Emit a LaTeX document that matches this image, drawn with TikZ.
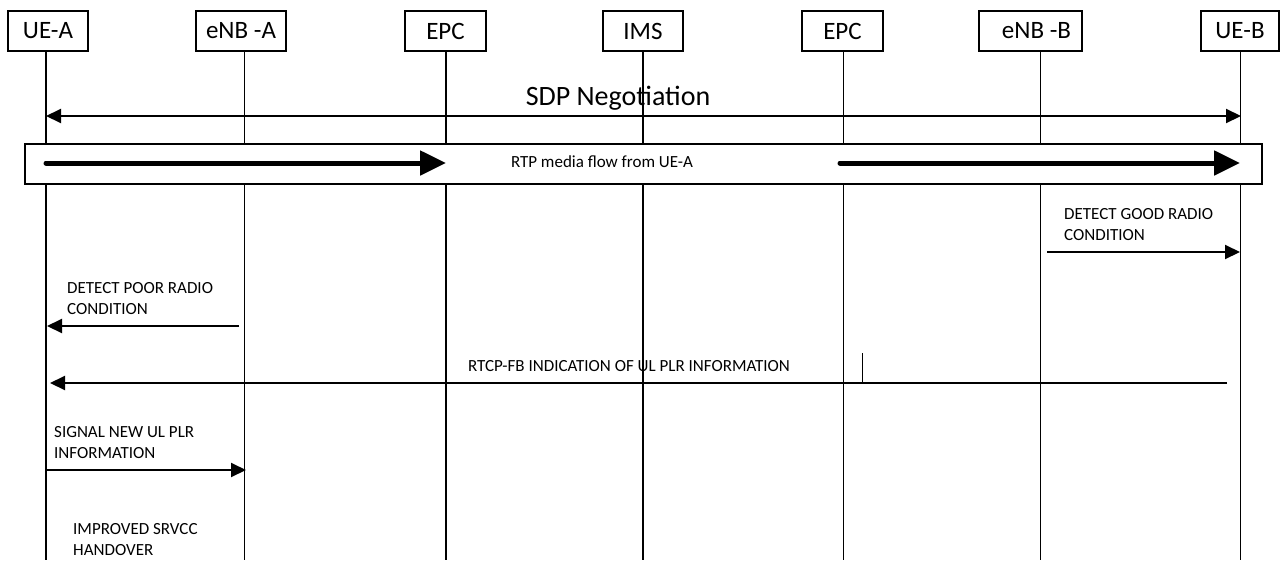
\documentclass[tikz,border=0pt]{standalone}
\usepackage{fontspec}
\setmainfont{Carlito}
\usetikzlibrary{arrows.meta}
\begin{document}
\begin{tikzpicture}[x=1pt,y=-1pt,
  hdr/.style={draw,line width=1.4pt,minimum height=40pt,inner sep=0pt,font=\fontsize{25}{28}\selectfont},
  life/.style={line width=1.5pt},
  msg/.style={line width=2pt,-{Triangle[length=15pt,width=14pt]}},
  thick msg/.style={line width=5pt,-{Triangle[length=26pt,width=24pt]}},
  lbl/.style={font=\fontsize{17}{21}\selectfont,align=left,inner sep=0pt,anchor=north west},
]
\useasboundingbox (0,0) rectangle (1282,560);
% headers
\node[hdr,minimum width=80pt] (ua) at (48,31) {UE-A};
\node[hdr,minimum width=90pt] (ea) at (241,31) {eNB -A};
\node[hdr,minimum width=81pt] (p1) at (445.5,31) {EPC};
\node[hdr,minimum width=80pt] (ims) at (643,31) {IMS};
\node[hdr,minimum width=81pt] (p2) at (842.5,31) {EPC};
\node[hdr,minimum width=103pt] (eb) at (1030.5,31) {\hspace*{12pt}eNB -B};
\node[hdr,minimum width=78pt] (ub) at (1240,31) {UE-B};
% lifeline coordinates
\coordinate (uaT) at (46,51);  \coordinate (uaB) at (46,560);
\coordinate (eaT) at (244.5,51); \coordinate (eaB) at (244.5,560);
\coordinate (p1T) at (446,51); \coordinate (p1B) at (446,560);
\coordinate (imT) at (643,51); \coordinate (imB) at (643,560);
\coordinate (p2T) at (843.5,51); \coordinate (p2B) at (843.5,560);
\coordinate (ebT) at (1040.5,51); \coordinate (ebB) at (1040.5,560);
\coordinate (ubT) at (1240.5,51); \coordinate (ubB) at (1240.5,560);
\foreach \l in {ua,ea,p1,im,p2,eb,ub} \draw[life] (\l T) -- (\l B);
% SDP negotiation
\coordinate (s1) at (46,116); \coordinate (s2) at (1241,116);
\draw[line width=2pt,{Triangle[length=15pt,width=14pt]}-{Triangle[length=15pt,width=14pt]}] (s1) -- (s2);
\node[font=\fontsize{28}{32}\selectfont,inner sep=0pt] (sdp) at (618,98) {SDP Negotiation};
% RTP box
\node[draw,fill=white,line width=1.4pt,minimum width=1237pt,minimum height=40pt,inner sep=0pt] (rtp) at (643.5,164) {};
\node[font=\fontsize{17}{20}\selectfont,inner sep=0pt] (rtpt) at (602,162) {RTP media flow from UE-A};
\coordinate (r1a) at (46,163); \coordinate (r1b) at (446,163);
\coordinate (r2a) at (840,163); \coordinate (r2b) at (1240,163);
\draw[thick msg,line cap=round] (r1a) -- (r1b);
\draw[thick msg,line cap=round] (r2a) -- (r2b);
% Detect good radio
\node[lbl] (good) at (1064,208) {DETECT GOOD RADIO\\CONDITION};
\coordinate (g1) at (1047,252); \coordinate (g2) at (1240,252);
\draw[msg] (g1) -- (g2);
% Detect poor radio
\node[lbl] (poor) at (67,282) {DETECT POOR RADIO\\CONDITION};
\coordinate (pp1) at (239,326); \coordinate (pp2) at (47,326);
\draw[msg] (pp1) -- (pp2);
% RTCP-FB
\node[font=\fontsize{17}{20}\selectfont,inner sep=0pt] (rtcp) at (629,366) {RTCP-FB INDICATION OF UL PLR INFORMATION};
\coordinate (c1) at (1227,383); \coordinate (c2) at (50,383);
\draw[msg] (c1) -- (c2);
\coordinate (t1) at (862,353); \coordinate (t2) at (862,383);
\draw[line width=1pt] (t1) -- (t2);
% Signal new UL PLR
\node[lbl] (sig) at (54,426) {SIGNAL NEW UL PLR\\INFORMATION};
\coordinate (n1) at (46,470); \coordinate (n2) at (246,470);
\draw[msg] (n1) -- (n2);
% Improved SRVCC
\node[lbl] (srv) at (73,523) {IMPROVED SRVCC\\HANDOVER};
\end{tikzpicture}
\end{document}
